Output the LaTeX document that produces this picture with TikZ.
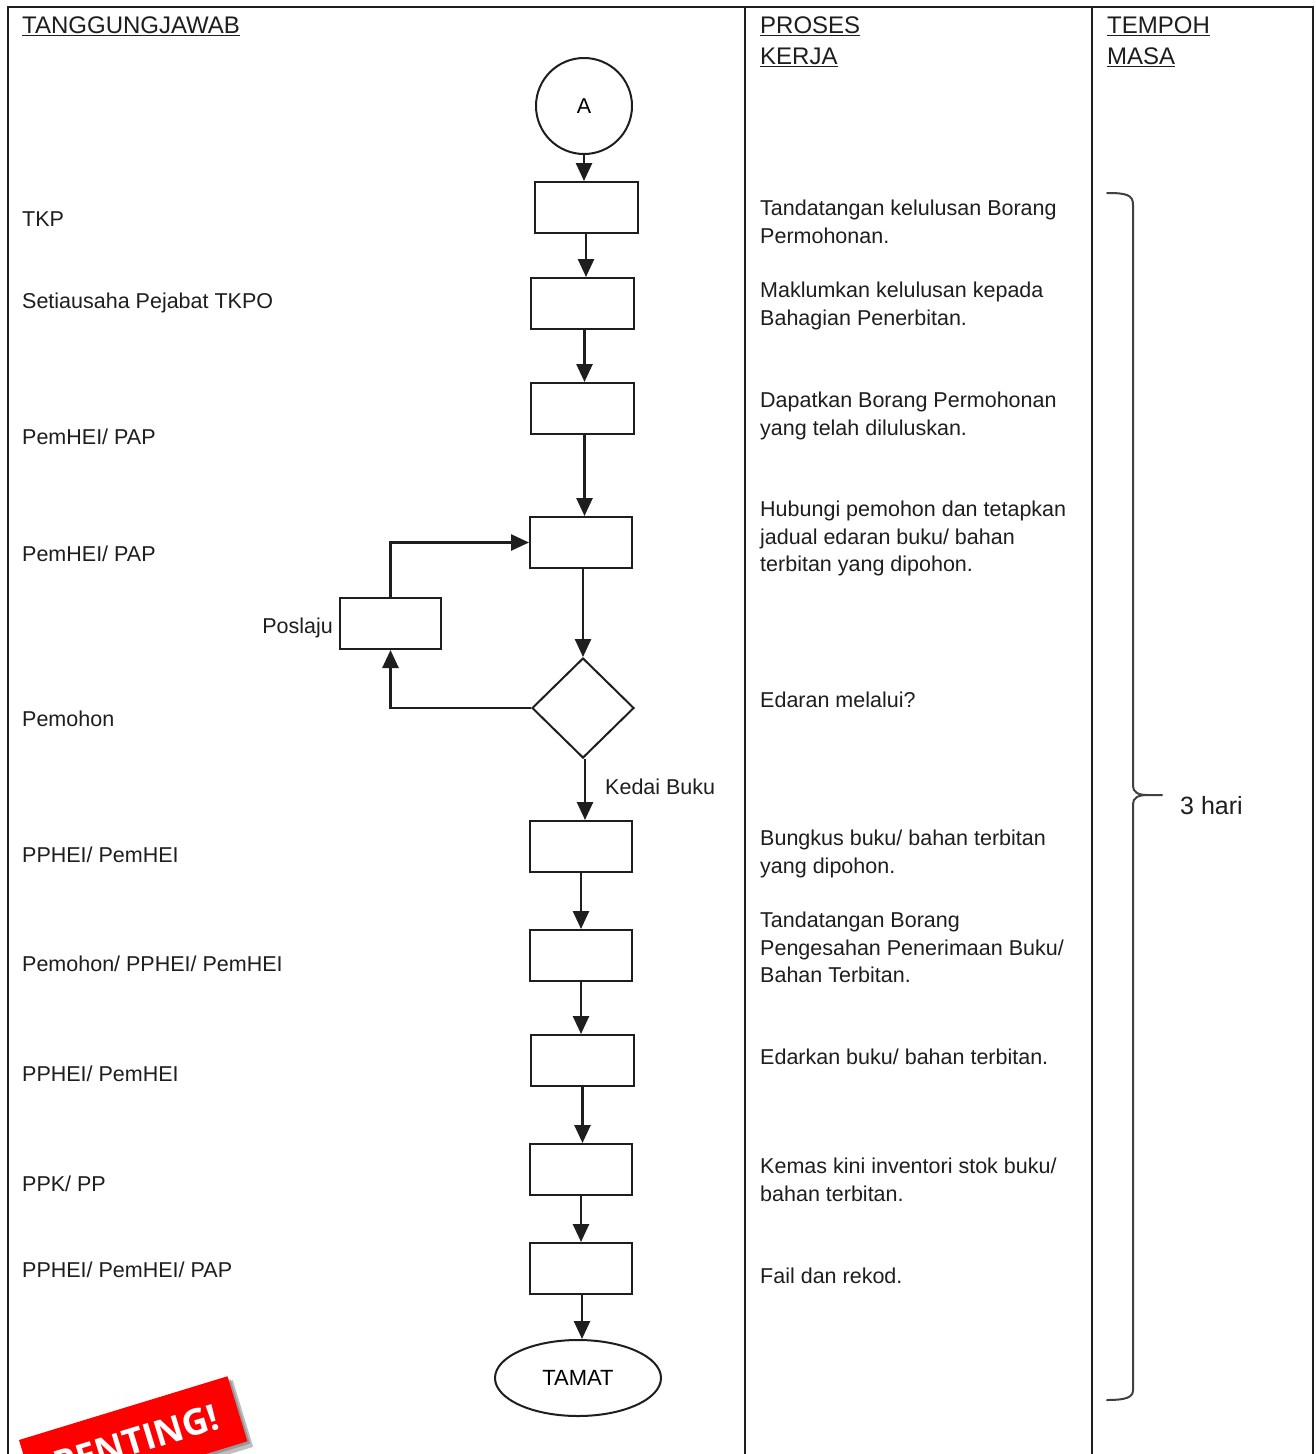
\documentclass[tikz,border=0pt]{standalone}
\usepackage{fontspec}
\setmainfont{Liberation Sans}
\newfontfamily\stampfont{Open Sans}
\usetikzlibrary{shapes.geometric,arrows.meta}
\definecolor{ink}{HTML}{1E1E1E}
\definecolor{stampred}{HTML}{FF0000}
\tikzset{
  frame/.style={line width=2.6pt, draw=ink},
  stepbox/.style={draw=ink, line width=2pt, rectangle, minimum width=102pt, minimum height=51pt, inner sep=0pt},
  arr/.style={draw=ink, line width=2.6pt, -{Triangle[length=18pt,width=16pt]}},
  lbl/.style={anchor=base west, font=\fontsize{21.5}{27.5}\selectfont, text=ink, inner sep=0pt},
  desc/.style={anchor=north west, align=left, font=\fontsize{21.5}{27.5}\selectfont, text=ink, inner sep=0pt},
  hdr/.style={anchor=north west, align=left, font=\fontsize{24}{31}\selectfont, text=ink, inner sep=0pt},
  bracepath/.style={draw=ink!85, line width=2pt, line cap=round, line join=round}
}
\begin{document}
\begin{tikzpicture}[x=1pt,y=-1pt]
\useasboundingbox (0,0) rectangle (1316,1454);
\clip (0,0) rectangle (1316,1454);
\fill[white] (0,0) rectangle (1316,1454);

% frame
\draw[frame] (8,1470) -- (8,7) -- (1313,7) -- (1313,1470);
\draw[frame] (745,7) -- (745,1470);
\draw[frame] (1092,7) -- (1092,1470);

% headers
\node[hdr] (h1) at (22,17) {\underline{TANGGUNGJAWAB}};
\node[hdr] (h2) at (760,17) {\underline{PROSES}\\\underline{KERJA}};
\node[hdr] (h3) at (1107,17) {\underline{TEMPOH}\\\underline{MASA}};

% flowchart nodes
\node[circle, draw=ink, line width=2pt, minimum size=96pt, inner sep=0pt, font=\fontsize{21.5}{24}\selectfont] (A) at (584,106) {A};
\node[stepbox, minimum width=103pt] (b1) at (586,207.5) {};
\node[stepbox, minimum width=103pt] (b2) at (582.5,303.5) {};
\node[stepbox, minimum width=103pt] (b3) at (582.5,408.5) {};
\node[stepbox] (b4) at (581,542.5) {};
\node[diamond, draw=ink, line width=2pt, minimum width=102pt, minimum height=100pt, inner sep=0pt] (d) at (583,708) {};
\node[stepbox, minimum width=101pt] (p) at (390.5,623.5) {};
\node[stepbox] (b5) at (581,846.5) {};
\node[stepbox] (b6) at (581,955.5) {};
\node[stepbox, minimum width=103pt] (b7) at (582.5,1060.5) {};
\node[stepbox] (b8) at (581,1169.5) {};
\node[stepbox] (b9) at (581,1268.5) {};
\node[ellipse, draw=ink, line width=2pt, minimum width=166pt, minimum height=76pt, inner sep=0pt, font=\fontsize{22}{24}\selectfont] (t) at (578,1378) {TAMAT};

% connectors
\draw[arr] (A.south) -- (A.south |- b1.north);
\draw[arr] (b1.south) -- (b1.south |- b2.north);
\draw[arr] ([xshift=2pt]b2.south) -- ([xshift=2pt]b2.south |- b3.north);
\draw[arr] ([xshift=2pt]b3.south) -- ([xshift=2pt]b3.south |- b4.north);
\draw[arr] ([xshift=2pt]b4.south) -- ([xshift=2pt]b4.south |- d.north);
\draw[arr] (d.west) -| (p.south);
\draw[arr] (p.north) |- (b4.west);
\draw[arr] ([xshift=2pt]d.south) -- ([xshift=2pt]d.south |- b5.north);
\draw[arr] (b5.south) -- (b5.south |- b6.north);
\draw[arr] (b6.south) -- (b6.south |- b7.north);
\draw[arr] (b7.south) -- (b7.south |- b8.north);
\draw[arr] (b8.south) -- (b8.south |- b9.north);
\draw[arr] ([xshift=1pt]b9.south) -- ([xshift=1pt]b9.south |- t.north);

\node[lbl, anchor=base east] (lp) at (333,633) {Poslaju};
\node[lbl] (lk) at (605,794) {Kedai Buku};

% responsibility labels
\node[lbl] (r1) at (22,226) {TKP};
\node[lbl] (r2) at (22,308) {Setiausaha Pejabat TKPO};
\node[lbl] (r3) at (22,444) {PemHEI/ PAP};
\node[lbl] (r4) at (22,561) {PemHEI/ PAP};
\node[lbl] (r5) at (22,726) {Pemohon};
\node[lbl] (r6) at (22,862) {PPHEI/ PemHEI};
\node[lbl] (r7) at (22,971) {Pemohon/ PPHEI/ PemHEI};
\node[lbl] (r8) at (22,1081) {PPHEI/ PemHEI};
\node[lbl] (r9) at (22,1191) {PPK/ PP};
\node[lbl] (r10) at (22,1277) {PPHEI/ PemHEI/ PAP};

% process descriptions
\node[desc] (k1) at (760,200) {Tandatangan kelulusan Borang\\Permohonan.};
\node[desc] (k2) at (760,282) {Maklumkan kelulusan kepada\\Bahagian Penerbitan.};
\node[desc] (k3) at (760,392) {Dapatkan Borang Permohonan\\yang telah diluluskan.};
\node[desc] (k4) at (760,501) {Hubungi pemohon dan tetapkan\\jadual edaran buku/ bahan\\terbitan yang dipohon.};
\node[desc] (k5) at (760,692) {Edaran melalui?};
\node[desc] (k6) at (760,830) {Bungkus buku/ bahan terbitan\\yang dipohon.};
\node[desc] (k7) at (760,912) {Tandatangan Borang\\Pengesahan Penerimaan Buku/\\Bahan Terbitan.};
\node[desc] (k8) at (760,1049) {Edarkan buku/ bahan terbitan.};
\node[desc] (k9) at (760,1158) {Kemas kini inventori stok buku/\\bahan terbitan.};
\node[desc] (k10) at (760,1268) {Fail dan rekod.};

% brace
\draw[bracepath] (1107,193) .. controls (1127,193) and (1133,195) .. (1133,205) -- (1133,786) .. controls (1133,792) and (1138,795) .. (1147,795) -- (1162,795);
\draw[bracepath] (1147,795) .. controls (1138,795) and (1133,798) .. (1133,804) -- (1133,1390) .. controls (1133,1397) and (1127,1400) .. (1107,1400);
\node[lbl, font=\fontsize{25}{28}\selectfont] (tm) at (1180,814) {3 hari};

% stamp
\begin{scope}[shift={(19,1440)}, rotate=17]
  \fill[black, opacity=0.25] (3,5) rectangle (222,75);
  \fill[black, opacity=0.2] (2,3) rectangle (220,71);
  \fill[stampred] (0,0) rectangle (218,68);
  \node[transform shape, inner sep=0pt, text=white, font=\stampfont\bfseries\fontsize{36}{36}\selectfont] (stamp) at (112,35) {PENTING!};
\end{scope}
\end{tikzpicture}
\end{document}
